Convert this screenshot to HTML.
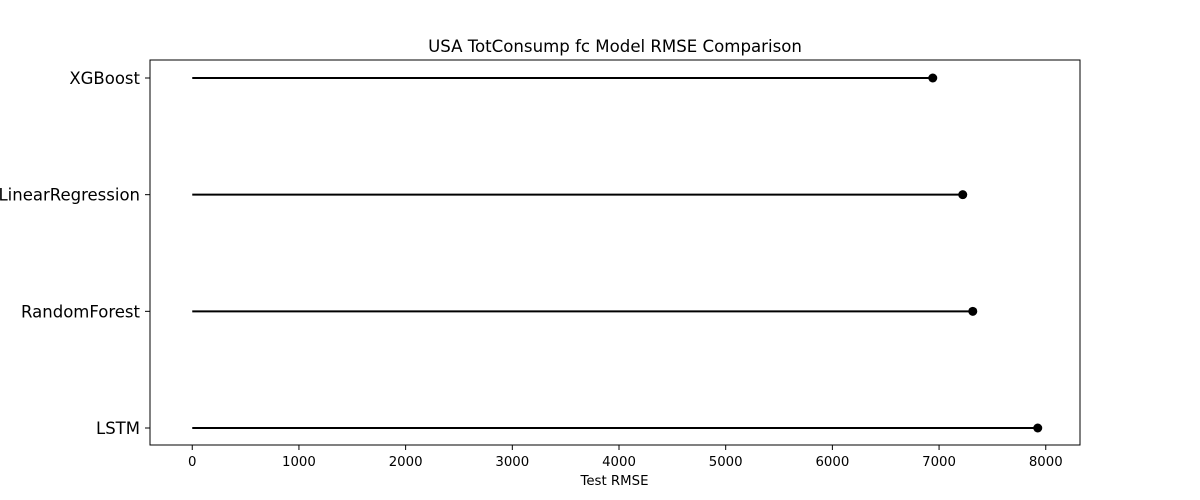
<!DOCTYPE html>
<html><head><meta charset="utf-8"><style>
body{margin:0;background:#fff;}
svg{display:block;font-family:"DejaVu Sans","Liberation Sans",sans-serif;}
</style></head><body>
<svg id="chart" width="1200" height="500"></svg>
<script>
const models = ["LSTM","RandomForest","LinearRegression","XGBoost"];
const rmseValues = [7925, 7316, 7222, 6941];
const xTicks = [0,1000,2000,3000,4000,5000,6000,7000,8000];
const NS="http://www.w3.org/2000/svg";
const svg=document.getElementById('chart');
const L=150,R=1080,T=60,B=445;
const xMin=-396,xMax=8321;
const xs=v=>L+(v-xMin)/(xMax-xMin)*(R-L);
const ys=i=>B-(i+0.15)/(models.length-1+0.3)*(B-T);
function mk(tag,attrs,parent){const e=document.createElementNS(NS,tag);for(const k in attrs)e.setAttribute(k,attrs[k]);(parent||svg).appendChild(e);return e;}
const title=mk('text',{x:(L+R)/2,y:52,'text-anchor':'middle','font-size':16.6});
title.textContent='USA TotConsump fc Model RMSE Comparison';


models.forEach((m,i)=>{
  const y=ys(i)+0.5;
  const ln=mk('line',{x1:xs(0),x2:xs(rmseValues[i]),y1:y,y2:y,stroke:'#000','stroke-width':2});
  
  
  const c=mk('circle',{cx:xs(rmseValues[i]),cy:y,r:4.5,fill:'#000'});
  
  
  mk('line',{x1:L-5,x2:L,y1:y,y2:y,stroke:'#000'});
  const t=mk('text',{x:L-10,y:y+6,'text-anchor':'end','font-size':16.5});
  t.textContent=m;
  
  
});
xTicks.forEach(v=>{
  const x=xs(v);
  mk('line',{x1:x,x2:x,y1:B,y2:B+5,stroke:'#000'});
  const t=mk('text',{x:x,y:B+21,'text-anchor':'middle','font-size':13.3});
  t.textContent=v;
  
  
});
const frame=mk('rect',{x:L,y:T,width:R-L,height:B-T,fill:'none',stroke:'#000','stroke-width':1});


const xl=mk('text',{x:(L+R)/2-0.5,y:485,'text-anchor':'middle','font-size':13.3});
xl.textContent='Test RMSE';


</script>
</body></html>
